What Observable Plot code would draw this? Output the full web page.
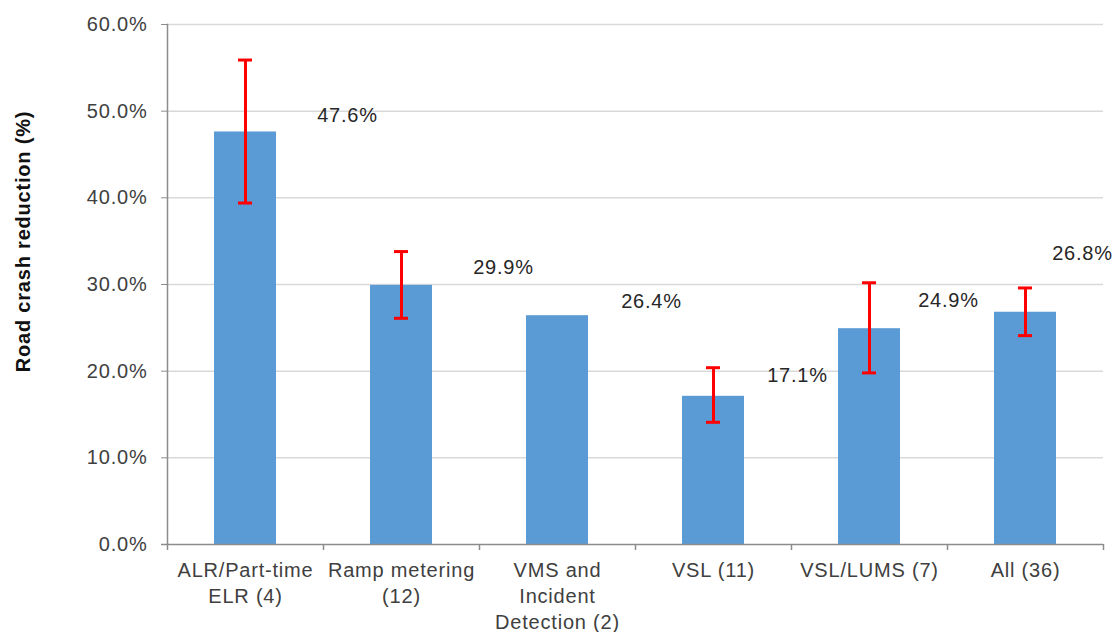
<!DOCTYPE html>
<html><head><meta charset="utf-8">
<script src="https://cdn.jsdelivr.net/npm/d3@7"></script>
<script src="https://cdn.jsdelivr.net/npm/@observablehq/plot@0.6"></script>
<style>
html,body{margin:0;padding:0;background:#fff;}
svg text{letter-spacing:0.8px;}
</style>
</head><body><div id="chart"></div>
<script>
const categories = ["ALR/Part-time\nELR (4)", "Ramp metering\n(12)", "VMS and\nIncident\nDetection (2)", "VSL (11)", "VSL/LUMS (7)", "All (36)"];
const reductions = [47.6, 29.9, 26.4, 17.1, 24.9, 26.8];
const errorLow  = [39.4, 26.1, null, 14.1, 19.8, 24.1];
const errorHigh = [55.9, 33.8, null, 20.4, 30.2, 29.6];
const yTicks = [0, 10, 20, 30, 40, 50, 60];
const yTitle = "Road crash reduction (%)";

// layout (label offsets in px, as placed in the original)
const labelDx = [102, 102, 94, 84, 79, 57];
const labelDy = [-16, -18, -14, -21, -28, -59];

const W = 1115, H = 632, ML = 167, MR = 12, MT = 24, MB = 88;
const step = (W - ML - MR) / categories.length;

const rows = categories.map((c, i) => ({category: c, value: reductions[i], lo: errorLow[i], hi: errorHigh[i]}));
const errRows = rows.filter(r => r.lo != null);

const axisColor = "#8c8c8c";
const red = "#ff0000";

const plot = Plot.plot({
  width: W, height: H,
  marginLeft: ML, marginRight: MR, marginTop: MT, marginBottom: MB,
  style: {fontFamily: "'Liberation Sans', Arial, sans-serif", fontSize: "20px", background: "#fff", overflow: "visible"},
  x: {domain: categories, paddingInner: 0.6, paddingOuter: 0.3},
  y: {domain: [0, 60]},
  marks: [
    Plot.gridY(yTicks.slice(1), {stroke: "#d9d9d9", strokeOpacity: 1, strokeWidth: 1.5}),
    Plot.barY(rows, {x: "category", y: "value", fill: "#5b9bd5"}),
    Plot.frame({anchor: "left", stroke: axisColor, strokeWidth: 1.5}),
    Plot.ruleY([0], {stroke: axisColor, strokeWidth: 1.5, insetLeft: -6}),
    Plot.ruleX(categories, {x: d => d, y1: 0, y2: 0, dx: -step / 2, insetBottom: -6, stroke: axisColor, strokeWidth: 1.5}),
    Plot.ruleX([categories[categories.length - 1]], {x: d => d, y1: 0, y2: 0, dx: step / 2, insetBottom: -6, stroke: axisColor, strokeWidth: 1.5}),
    Plot.axisY({ticks: yTicks, tickFormat: d => d.toFixed(1) + "%", tickSize: 6, tickPadding: 14, stroke: axisColor, fill: "#404040", label: null}),
    Plot.axisX({tickSize: 0, tickPadding: 14, fill: "#404040", lineHeight: 1.3, label: null}),
    Plot.ruleX(errRows, {x: "category", y1: "lo", y2: "hi", stroke: red, strokeWidth: 3}),
    Plot.tickY(errRows, {x: "category", y: "lo", stroke: red, strokeWidth: 3, insetLeft: 24, insetRight: 24}),
    Plot.tickY(errRows, {x: "category", y: "hi", stroke: red, strokeWidth: 3, insetLeft: 24, insetRight: 24}),
    ...rows.map((r, i) => Plot.text([r], {x: "category", y: "value", text: d => d.value.toFixed(1) + "%", dx: labelDx[i], dy: labelDy[i], fill: "#262626"})),
    Plot.text([yTitle], {frameAnchor: "left", textAnchor: "middle", rotate: -90, dx: -144, dy: -43, fontWeight: "bold", fill: "#111"})
  ]
});
document.getElementById("chart").append(plot);
</script>
</body></html>
